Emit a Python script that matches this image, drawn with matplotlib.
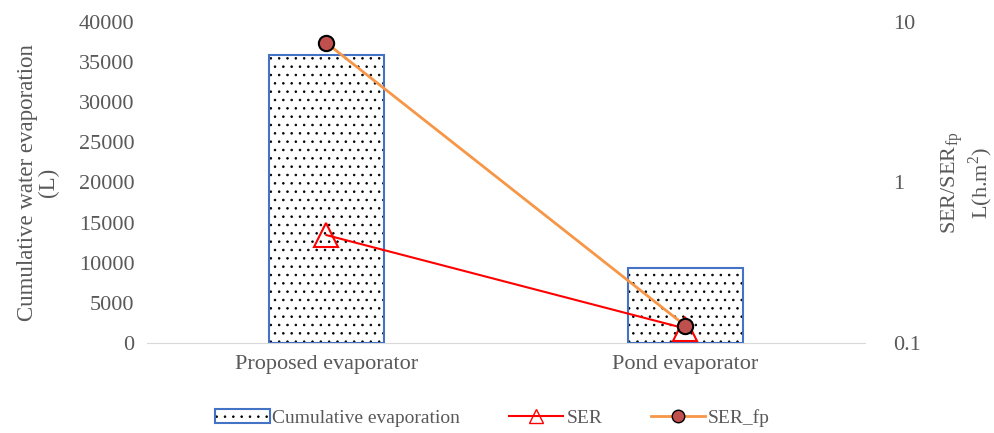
import matplotlib.pyplot as plt
from matplotlib.patches import Patch
from matplotlib.lines import Line2D
from matplotlib.legend_handler import HandlerTuple

plt.rcParams['font.family'] = ['Liberation Serif', 'DejaVu Serif']
plt.rcParams['mathtext.fontset'] = 'custom'
plt.rcParams['mathtext.rm'] = 'Liberation Serif'
plt.rcParams['hatch.linewidth'] = 0.6

categories = ['Proposed evaporator', 'Pond evaporator']
cumulative = [35900, 9350]
ser = [0.47, 0.123]
ser_fp = [7.4, 0.128]

grey = '#595959'
fig = plt.figure(figsize=(9.95, 4.33), dpi=100)
ax = fig.add_axes([0.1477, 0.2079, 0.7216, 0.7413])
x = [0, 1]

ax.bar(x, cumulative, width=0.32, color='white', edgecolor='black',
       hatch='..', linewidth=0, zorder=2)
ax.bar(x, cumulative, width=0.32, fill=False, edgecolor='#4472C4',
       linewidth=1.5, zorder=3)
ax.set_xlim(-0.5, 1.5)
ax.set_ylim(0, 40000)
ax.set_yticks(range(0, 40001, 5000))
ax.set_xticks(x)
ax.set_xticklabels(categories)
for s in ['top', 'right', 'left']:
    ax.spines[s].set_visible(False)
ax.spines['bottom'].set_color('#d9d9d9')
ax.tick_params(axis='both', length=0, labelsize=16, colors=grey, pad=9)
ax.set_ylabel('Cumulative water evaporation\n(L)', fontsize=16.5, color=grey,
              linespacing=1.0, labelpad=14)

ax2 = ax.twinx()
ax2.set_yscale('log')
ax2.set_ylim(0.1, 10)
ax2.set_yticks([0.1, 1, 10])
ax2.set_yticklabels(['0.1', '1', '10'])
ax2.minorticks_off()
for s in ['top', 'right', 'left', 'bottom']:
    ax2.spines[s].set_visible(False)
ax2.tick_params(axis='y', length=0, labelsize=16, colors=grey, pad=20)
ax2.plot(x, ser, color='red', lw=1.5, marker='^', markersize=17,
         markerfacecolor='none', markeredgecolor='red', markeredgewidth=1.5,
         zorder=4)
ax2.plot(x, ser_fp, color='#F79646', lw=2, marker='o', markersize=11,
         markerfacecolor='#C0504D', markeredgecolor='black',
         markeredgewidth=1.5, zorder=5)
ax2.set_ylabel('SER/SER$_{\\mathrm{fp}}$\nL(h.m$^{2}$)', fontsize=16,
               color=grey, linespacing=1.0, labelpad=14)

h_bar = (Patch(facecolor='white', edgecolor='black', hatch='..', linewidth=0),
         Patch(fill=False, edgecolor='#4472C4', linewidth=1.5))
h_ser = Line2D([], [], color='red', lw=1.5, marker='^', markersize=10,
               markerfacecolor='none', markeredgecolor='red')
h_fp = Line2D([], [], color='#F79646', lw=2, marker='o', markersize=9,
              markerfacecolor='#C0504D', markeredgecolor='black')
leg = fig.legend([h_bar, h_ser, h_fp], ['Cumulative evaporation', 'SER', 'SER_fp'],
                 handler_map={tuple: HandlerTuple(ndivide=1, pad=0)},
                 loc='center', bbox_to_anchor=(0.495, 0.035), ncol=3,
                 frameon=False, fontsize=14, handlelength=2.8,
                 handletextpad=0.15, columnspacing=2.5)
for t in leg.get_texts():
    t.set_color(grey)

fig.savefig('out.png', dpi=100)
